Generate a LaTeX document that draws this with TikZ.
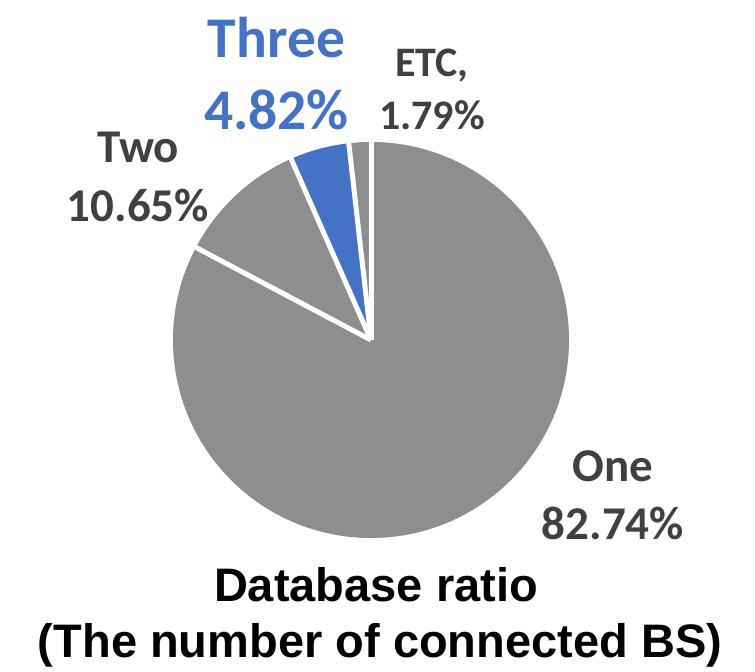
\documentclass[tikz,border=0pt]{standalone}
\usepackage{fontspec}
\usetikzlibrary{calc}
\setmainfont{Liberation Sans}
\newfontfamily\lblfont{Carlito}
\definecolor{piegray}{HTML}{8E8E8E}
\definecolor{pieblue}{HTML}{4472C4}
\definecolor{lbltext}{HTML}{404040}
\tikzset{
  slicesep/.style={draw=white, line width=5pt},
  lbl/.style={font=\lblfont\bfseries, text=lbltext, anchor=base, inner sep=0pt},
  ttl/.style={font=\bfseries\fontsize{47}{54}\selectfont, text=black, anchor=base, inner sep=0pt}
}
\begin{document}
\begin{tikzpicture}[x=1pt,y=1pt]
\useasboundingbox (0,0) rectangle (755,672);
\coordinate (c) at (371,332);
% slices
\fill[piegray] (c) -- ++(90:198) arc[start angle=90, end angle=-207.864, radius=198] -- cycle;
\fill[piegray] (c) -- ++(152.136:198) arc[start angle=152.136, end angle=113.796, radius=198] -- cycle;
\fill[pieblue] (c) -- ++(113.796:198) arc[start angle=113.796, end angle=96.444, radius=198] -- cycle;
\fill[piegray] (c) -- ++(96.444:198) arc[start angle=96.444, end angle=90, radius=198] -- cycle;
% separators
\coordinate (r1) at ($(c)+(90:199)$);
\coordinate (r2) at ($(c)+(152.136:199)$);
\coordinate (r3) at ($(c)+(113.796:199)$);
\coordinate (r4) at ($(c)+(96.444:199)$);
\draw[slicesep] (c) -- (r1);
\draw[slicesep] (c) -- (r2);
\draw[slicesep] (c) -- (r3);
\draw[slicesep] (c) -- (r4);
% labels
\node[lbl, text=pieblue, font=\lblfont\bfseries\fontsize{57.5}{72}\selectfont] (three1) at (276.5,614) {Three};
\node[lbl, text=pieblue, font=\lblfont\bfseries\fontsize{57.5}{72}\selectfont] (three2) at (276.5,542) {4.82\%};
\node[lbl, font=\lblfont\bfseries\fontsize{42}{50}\selectfont] (etc1) at (432,595) {ETC,};
\node[lbl, font=\lblfont\bfseries\fontsize{42}{50}\selectfont] (etc2) at (432,542) {1.79\%};
\node[lbl, font=\lblfont\bfseries\fontsize{47}{56}\selectfont] (two1) at (138,509) {Two};
\node[lbl, font=\lblfont\bfseries\fontsize{47}{56}\selectfont] (two2) at (138,450) {10.65\%};
\node[lbl, font=\lblfont\bfseries\fontsize{47}{56}\selectfont] (one1) at (613,190) {One};
\node[lbl, font=\lblfont\bfseries\fontsize{47}{56}\selectfont] (one2) at (613,132) {82.74\%};
% title
\node[ttl] (t1) at (376,70) {Database ratio};
\node[ttl] (t2) at (380,14) {(The number of connected BS)};
\end{tikzpicture}
\end{document}
